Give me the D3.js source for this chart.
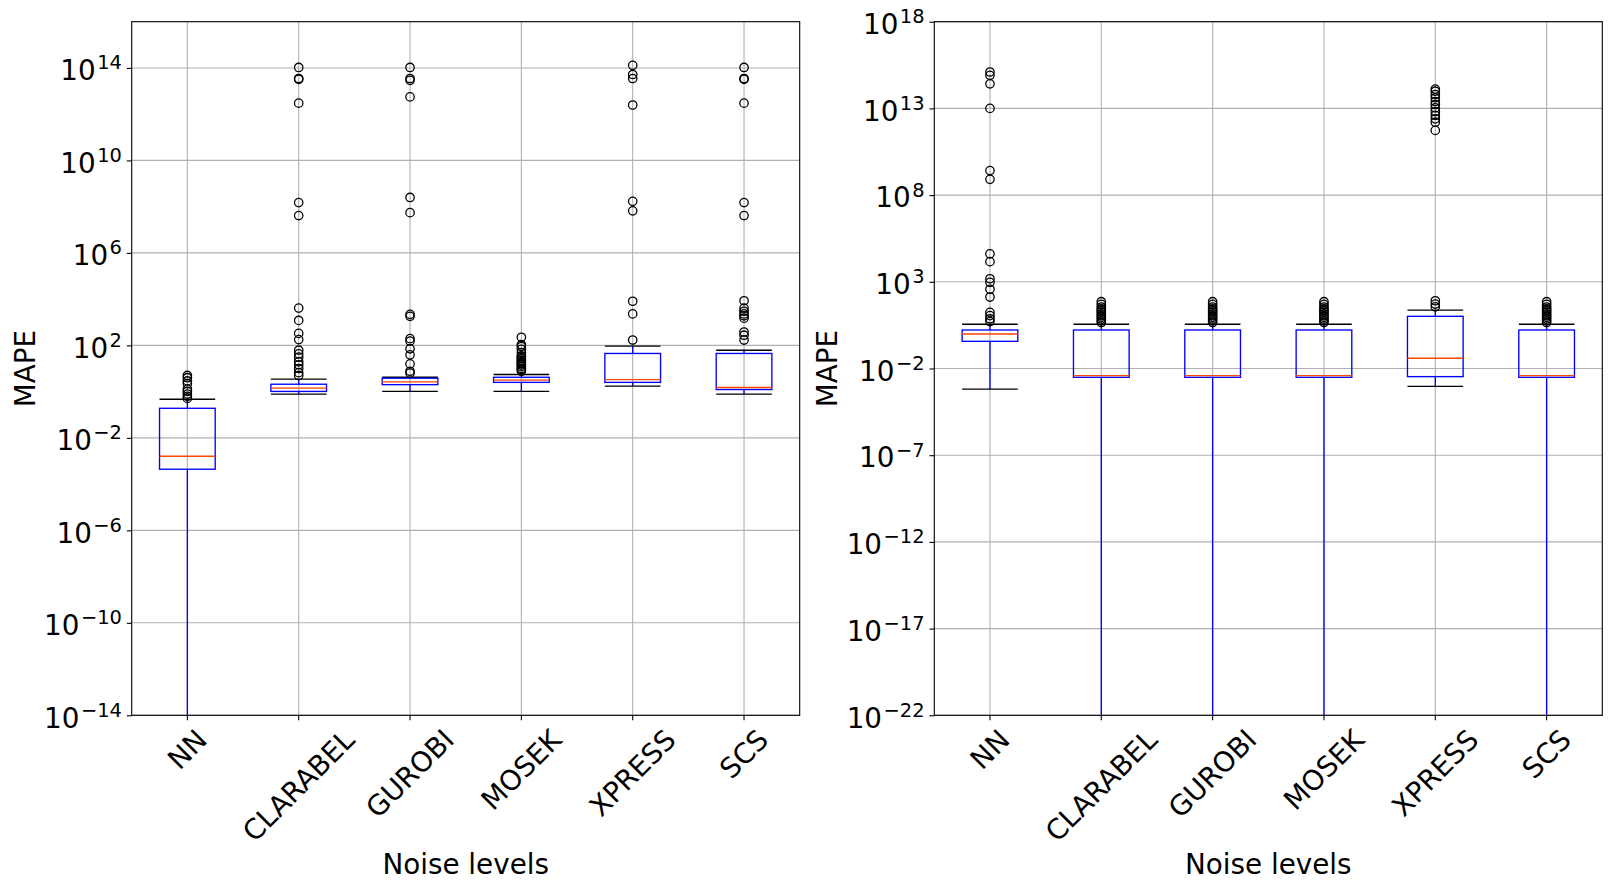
<!DOCTYPE html>
<html>
<head>
<meta charset="utf-8">
<script src="https://cdn.jsdelivr.net/npm/d3@7"></script>
<style>
  body { margin: 0; background: #fff; }
  svg { display: block; }
  svg text { font-family: "DejaVu Sans", sans-serif; }
</style>
</head>
<body>
<svg id="chart" width="1613" height="889"></svg>
<script>
// solvers on the x axis
const categories = ['NN', 'CLARABEL', 'GUROBI', 'MOSEK', 'XPRESS', 'SCS']

// left panel: box stats, 1e-30 = whisker runs past the axis
const leftQ1 = [4.4e-4, 1.02, 2.0, 2.51, 2.51, 1.23]
const leftMedian = [1.6e-3, 1.41, 2.63, 3.16, 3.3, 1.51]
const leftQ3 = [0.19, 2.09, 3.8, 4.17, 44.7, 44.7]
const leftWhiskerLow = [1e-30, 0.78, 1.02, 1.02, 1.74, 0.78]
const leftWhiskerHigh = [0.47, 3.47, 4.17, 5.5, 93, 61.7]
const leftOutliers = [
    [5.0, 4.0, 2.9, 2.2, 1.29, 1.02, 0.78, 0.62, 0.51],
    [1.05e14, 3.5e13, 3.2e13, 3.0e12, 1.5e8, 4.1e7, 4100, 1200, 330, 178, 62, 43, 31, 19.5, 14.5, 10, 6.6, 5.0],
    [1.05e14, 3.5e13, 2.9e13, 5.6e12, 2.5e8, 5.5e7, 2200, 1800, 195, 155, 71, 39, 15.8, 7.6, 6.3],
    [224, 107, 89, 68, 49, 35, 32, 27, 23, 20, 18, 15.8, 14, 12, 10, 9.1, 7.6],
    [1.3e14, 5.2e13, 3.5e13, 2.5e12, 1.7e8, 6.6e7, 8100, 2300, 170],
    [1.05e14, 3.5e13, 3.2e13, 3.0e12, 1.5e8, 4.1e7, 8500, 4100, 3000, 2300, 1900, 1500, 380, 275, 170]
]
const leftTickExp = [-14, -10, -6, -2, 2, 6, 10, 14]

// right panel
const rightQ1 = [0.37, 3.1e-3, 3.1e-3, 3.1e-3, 3.4e-3, 3.1e-3]
const rightMedian = [0.98, 3.9e-3, 3.9e-3, 3.9e-3, 0.039, 3.9e-3]
const rightQ3 = [1.66, 1.66, 1.66, 1.66, 10.2, 1.66]
const rightWhiskerLow = [6.5e-4, 1e-30, 1e-30, 1e-30, 9.3e-4, 1e-30]
const rightWhiskerHigh = [3.55, 3.55, 3.55, 3.55, 23.4, 3.55]
const rightOutliers = [
    [1.26e15, 8.1e14, 2.6e14, 1.0e13, 2.6e9, 8.1e8, 4.1e4, 1.45e4, 1500, 930, 370, 132, 17.4, 11.2, 7.4, 5.1],
    [71, 50, 35, 28, 22, 18, 14, 11, 8.9, 7.1, 5.6, 4.5],
    [71, 50, 35, 28, 22, 18, 14, 11, 8.9, 7.1, 5.6, 4.5],
    [71, 50, 35, 28, 22, 18, 14, 11, 8.9, 7.1, 5.6, 4.5],
    [1.3e14, 9.8e13, 6.3e13, 4.1e13, 2.5e13, 1.66e13, 1.07e13, 6.6e12, 4.0e12, 2.5e12, 1.6e12, 5.4e11, 81, 52, 36],
    [71, 50, 35, 28, 22, 18, 14, 11, 8.9, 7.1, 5.6, 4.5]
]
const rightTickExp = [-22, -17, -12, -7, -2, 3, 8, 13, 18]

const FONT = '"DejaVu Sans", sans-serif',
    FS = 27.8,
    TICK = 4.86,
    PAD = 4.86,
    yTop = 21.7,
    yBottom = 715.3

const svg = d3.select('#chart')
svg.append('rect').attr('width', 1613).attr('height', 889).attr('fill', '#fff')

function panel(x0, x1, domain, tickExp, q1, med, q3, wLo, wHi, fliers) {
    const g = svg.append('g')
    const x = d3.scaleBand().domain(categories).range([x0, x1]).padding(0)
    const y = d3.scaleLog().domain(domain).range([yBottom, yTop]).clamp(true)
    const cx = c => x(c) + x.bandwidth() / 2
    const bw = x.bandwidth() * 0.5

    // grid
    g.append('g').selectAll('line').data(tickExp).join('line')
        .attr('x1', x0).attr('x2', x1)
        .attr('y1', d => y(Math.pow(10, d))).attr('y2', d => y(Math.pow(10, d)))
        .attr('stroke', '#b0b0b0').attr('stroke-width', 1.1)
    g.append('g').selectAll('line').data(categories).join('line')
        .attr('x1', cx).attr('x2', cx)
        .attr('y1', yTop).attr('y2', yBottom)
        .attr('stroke', '#b0b0b0').attr('stroke-width', 1.1)

    const boxes = g.append('g').selectAll('g').data(categories).join('g')
    // whiskers
    boxes.append('line')
        .attr('x1', cx).attr('x2', cx)
        .attr('y1', (c, i) => y(q3[i])).attr('y2', (c, i) => y(wHi[i]))
        .attr('stroke', 'blue').attr('stroke-width', 1.35)
    boxes.append('line')
        .attr('x1', cx).attr('x2', cx)
        .attr('y1', (c, i) => y(q1[i])).attr('y2', (c, i) => y(wLo[i]))
        .attr('stroke', 'blue').attr('stroke-width', 1.35)
    // caps (only where inside the axes)
    boxes.each(function (c, i) {
        const s = d3.select(this)
        ;[wLo[i], wHi[i]].forEach(v => {
            if (v < domain[0]) return
            s.append('line')
                .attr('x1', cx(c) - bw / 2).attr('x2', cx(c) + bw / 2)
                .attr('y1', y(v)).attr('y2', y(v))
                .attr('stroke', 'black').attr('stroke-width', 1.35)
        })
    })
    // box
    boxes.append('rect')
        .attr('x', c => cx(c) - bw / 2).attr('width', bw)
        .attr('y', (c, i) => y(q3[i]))
        .attr('height', (c, i) => y(q1[i]) - y(q3[i]))
        .attr('fill', 'none').attr('stroke', 'blue').attr('stroke-width', 1.35)
    // median
    boxes.append('line')
        .attr('x1', c => cx(c) - bw / 2).attr('x2', c => cx(c) + bw / 2)
        .attr('y1', (c, i) => y(med[i])).attr('y2', (c, i) => y(med[i]))
        .attr('stroke', '#ff4500').attr('stroke-width', 1.35)
    // fliers
    boxes.each(function (c, i) {
        d3.select(this).selectAll('circle').data(fliers[i]).join('circle')
            .attr('cx', cx(c)).attr('cy', d => y(d)).attr('r', 4.2)
            .attr('fill', 'none').attr('stroke', 'black').attr('stroke-width', 1.3)
    })

    // frame
    g.append('rect').attr('x', x0).attr('y', yTop)
        .attr('width', x1 - x0).attr('height', yBottom - yTop)
        .attr('fill', 'none').attr('stroke', 'black').attr('stroke-width', 1.1)

    // y axis ticks + labels
    const yAxis = g.append('g').attr('transform', `translate(${x0},0)`)
        .call(d3.axisLeft(y).tickValues(tickExp.map(e => Math.pow(10, e))).tickSize(TICK).tickPadding(PAD))
        .attr('font-family', FONT)
    yAxis.select('.domain').remove()
    yAxis.selectAll('.tick line').attr('stroke', 'black').attr('stroke-width', 1.1)
    yAxis.selectAll('.tick text').remove()
    yAxis.selectAll('.tick').data(tickExp).append('text')
        .attr('x', -(TICK + PAD)).attr('y', 11.7)
        .attr('text-anchor', 'end').attr('fill', 'black')
        .style('font-family', FONT).style('font-size', FS + 'px')
        .each(function (e) {
            const t = d3.select(this)
            t.append('tspan').text('10')
            t.append('tspan').attr('dx', 1.5).attr('dy', -10.7).style('font-size', (FS * 0.7) + 'px')
                .text(String(e).replace('-', '\u2212'))
        })

    // x axis ticks + rotated labels
    const xAxis = g.append('g').attr('transform', `translate(0,${yBottom})`)
        .call(d3.axisBottom(x).tickSize(TICK).tickPadding(PAD))
        .attr('font-family', FONT)
    xAxis.select('.domain').remove()
    xAxis.selectAll('.tick line').attr('stroke', 'black').attr('stroke-width', 1.1)
    xAxis.selectAll('.tick text').remove()
    xAxis.selectAll('.tick').append('text')
        .attr('text-anchor', 'middle').attr('dominant-baseline', 'central')
        .attr('fill', 'black')
        .style('font-family', FONT).style('font-size', FS + 'px')
        .text(d => d)
        .each(function () {
            const w = this.getComputedTextLength(), h = FS
            const cy = TICK + PAD + (w + h) / (2 * Math.SQRT2)
            d3.select(this).attr('transform', `translate(0,${cy}) rotate(-45)`)
        })

    // axis titles
    g.append('text').attr('x', (x0 + x1) / 2).attr('y', 874)
        .attr('text-anchor', 'middle')
        .style('font-family', FONT).style('font-size', FS + 'px').text('Noise levels')
    g.append('text')
        .attr('transform', `translate(${x0 - 97},${(yTop + yBottom) / 2}) rotate(-90)`)
        .attr('text-anchor', 'middle')
        .style('font-family', FONT).style('font-size', FS + 'px').text('MAPE')
}

panel(131.7, 799.7, [1e-14, 1e16], leftTickExp,
    leftQ1, leftMedian, leftQ3, leftWhiskerLow, leftWhiskerHigh, leftOutliers)
panel(934.3, 1602.3, [1e-22, 1e18], rightTickExp,
    rightQ1, rightMedian, rightQ3, rightWhiskerLow, rightWhiskerHigh, rightOutliers)
</script>
</body>
</html>
